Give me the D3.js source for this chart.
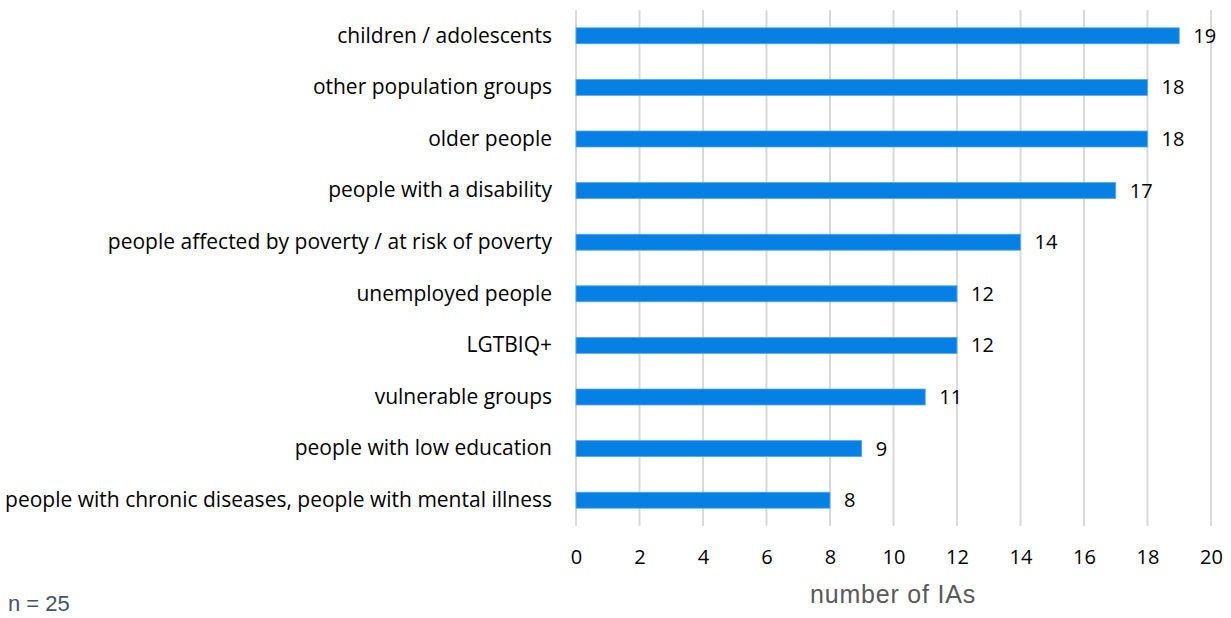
<!DOCTYPE html>
<html>
<head>
<meta charset="utf-8">
<script src="https://cdn.jsdelivr.net/npm/d3@7"></script>
<style>
  body { margin: 0; background: #fff; }
  svg text { font-family: "Open Sans", sans-serif; }
</style>
</head>
<body>
<div id="chart"></div>
<script>
const categories = [
  "children / adolescents",
  "other population groups",
  "older people",
  "people with a disability",
  "people affected by poverty / at risk of poverty",
  "unemployed people",
  "LGTBIQ+",
  "vulnerable groups",
  "people with low education",
  "people with chronic diseases, people with mental illness"
];
const values = [19, 18, 18, 17, 14, 12, 12, 11, 9, 8];
const xTicks = [0, 2, 4, 6, 8, 10, 12, 14, 16, 18, 20];

const data = categories.map((c, i) => ({cat: c, val: values[i]}));

const width = 1231, height = 618;
const margin = {top: 10, right: 20, bottom: 92, left: 576};

const svg = d3.select('#chart').append('svg')
    .attr('width', width)
    .attr('height', height);

const xScale = d3.scaleLinear().domain([0, 20]).range([margin.left, 1211]);
const yScale = d3.scaleBand().domain(categories)
    .range([margin.top, height - margin.bottom])
    .paddingInner(0.69).paddingOuter(0.345);

// gridlines
svg.append('g')
    .selectAll('line')
    .data(xTicks)
    .enter()
    .append('line')
    .attr('x1', d => xScale(d))
    .attr('x2', d => xScale(d))
    .attr('y1', margin.top)
    .attr('y2', height - margin.bottom)
    .style('stroke', '#d9d9d9')
    .style('stroke-width', 2);

// x axis
const xAxis = svg.append('g')
    .attr('transform', 'translate(0,' + (height - margin.bottom) + ')')
    .call(d3.axisBottom(xScale).tickValues(xTicks).tickSize(0).tickPadding(24));
xAxis.select('.domain').remove();
xAxis.selectAll('text')
    .style('font-size', '20px')
    .style('fill', '#000');

// y axis
const yAxis = svg.append('g')
    .attr('transform', 'translate(' + margin.left + ',0)')
    .call(d3.axisLeft(yScale).tickSize(0).tickPadding(24));
yAxis.select('.domain').remove();
yAxis.selectAll('text')
    .style('font-size', '21px')
    .style('fill', '#000');

// bars
svg.selectAll('.bar')
    .data(data)
    .enter()
    .append('rect')
    .attr('class', 'bar')
    .attr('x', xScale(0))
    .attr('y', d => yScale(d.cat))
    .attr('width', d => xScale(d.val) - xScale(0))
    .attr('height', yScale.bandwidth())
    .style('fill', '#0780E4')
    .style('stroke', '#5aa8ee')
    .style('stroke-width', 0.8);

// value labels
svg.selectAll('.val')
    .data(data)
    .enter()
    .append('text')
    .attr('class', 'val')
    .attr('x', d => xScale(d.val) + 14)
    .attr('y', d => yScale(d.cat) + yScale.bandwidth() / 2)
    .attr('dy', '0.35em')
    .style('font-size', '20px')
    .style('fill', '#000')
    .text(d => d.val);

// axis title
svg.append('text')
    .attr('x', 893)
    .attr('y', 603)
    .style('text-anchor', 'middle')
    .style('font-family', '"Liberation Sans", Arial, sans-serif')
    .style('font-size', '25px')
    .style('letter-spacing', '0.8px')
    .style('fill', '#595959')
    .text('number of IAs');

svg.append('text')
    .attr('x', 8)
    .attr('y', 611)
    .style('font-family', '"Liberation Sans", Arial, sans-serif')
    .style('font-size', '22px')
    .style('fill', '#44546A')
    .text('n = 25');
</script>
</body>
</html>
